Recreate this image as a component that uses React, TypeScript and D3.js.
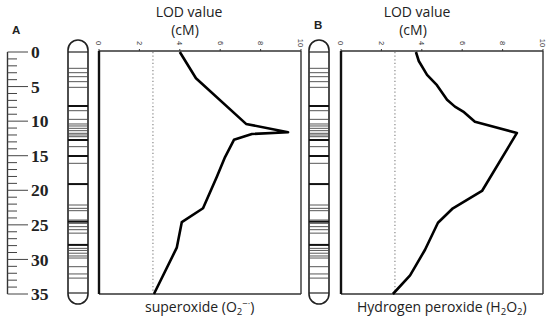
import React from "react";
import * as d3 from "d3";

// LOD profile, panel A (superoxide)
const cmA = [0, 3.8, 10.4, 11.6, 11.85, 12.7, 15.2, 18, 22.6, 24.6, 28.3, 35];
const lodA = [4.0, 4.8, 7.28, 9.36, 7.57, 6.68, 6.24, 5.84, 5.15, 4.1, 3.85, 2.72];

// LOD profile, panel B (hydrogen peroxide)
const cmB = [0, 1.3, 3.3, 4.8, 6.9, 7.9, 8.7, 10.1, 10.6, 11.7, 20.1, 22.6, 24.7, 28.6, 32.3, 35];
const lodB = [3.71, 3.85, 4.26, 4.75, 5.25, 5.64, 6.09, 6.63, 7.28, 8.71, 6.98, 5.54, 4.8, 4.16, 3.42, 2.57];

const threshold = 2.67;
const lodTicks = [0, 2, 4, 6, 8, 10];
const rulerLabels = [0, 5, 10, 15, 20, 25, 30, 35];
const rulerTicks = d3.range(0, 36);

// marker bands on the chromosome (cM)
const bands = [2.36, 2.99, 3.57, 4.29, 5.11, 7.81, 8.49, 9.74, 10.41, 10.7, 11.04, 11.38, 11.76, 12.0, 12.25, 12.73, 13.69, 15.04, 16.1, 19.1, 22.13, 22.61, 22.95, 24.3, 24.54, 24.78, 25.26, 25.7, 26.2, 27.9, 28.4, 28.7, 29.1, 29.5, 29.8, 31.05, 32.1, 32.7];
const thickBands = [7.81, 12.73, 15.04, 19.1, 24.54, 27.9];

const W = 550, H = 321;
const y = d3.scaleLinear().domain([0, 35]).range([52, 294]);

const Chromosome = ({ x0 }: { x0: number }) => {
  const w = 20, r = 10, top = 40, bot = 304;
  const path = `M${x0},${top + r} A${r},${r} 0 0 1 ${x0 + w},${top + r} L${x0 + w},${bot - r} A${r},${r} 0 0 1 ${x0},${bot - r} Z`;
  return (
    <g>
      <path d={path} fill="white" stroke="#222" strokeWidth={1.6} />
      <line x1={x0} x2={x0 + w} y1={y(0)} y2={y(0)} stroke="#222" strokeWidth={1.2} />
      <line x1={x0} x2={x0 + w} y1={y(35) - 1} y2={y(35) - 1} stroke="#222" strokeWidth={1.2} />
      {bands.map((b, i) => (
        <line key={i} x1={x0} x2={x0 + w} y1={y(b)} y2={y(b)}
          stroke={thickBands.includes(b) ? "#111" : "#444"}
          strokeWidth={thickBands.includes(b) ? 2 : 0.9} />
      ))}
    </g>
  );
};

const Panel = ({ x0, cm, lod }: { x0: number; cm: number[]; lod: number[] }) => {
  const x = d3.scaleLinear().domain([0, 10]).range([x0, x0 + 202]);
  const pts = cm.map((c, i) => [lod[i], c] as [number, number]);
  const line = d3.line<[number, number]>().x(d => x(d[0])).y(d => y(d[1]));
  return (
    <g>
      <line x1={x(0)} x2={x(10)} y1={y(0) - 1} y2={y(0) - 1} stroke="#333" strokeWidth={1.4} />
      <line x1={x(10)} x2={x(10)} y1={y(0) - 1} y2={y(35)} stroke="#333" strokeWidth={1.4} />
      <line x1={x(0)} x2={x(10)} y1={y(35)} y2={y(35)} stroke="#333" strokeWidth={1.6} />
      <line x1={x(0)} x2={x(0)} y1={y(0) - 1} y2={y(35)} stroke="#111" strokeWidth={2.4} />
      {lodTicks.map(t => (
        <g key={t} transform={`translate(${x(t)},${y(0) - 1})`}>
          <line y1={0} y2={-2} stroke="#333" strokeWidth={1} />
          <text transform="translate(0,-8) rotate(90)" textAnchor="middle" dy="0.35em"
            fontFamily="Liberation Sans, Arial, sans-serif" fontSize={7.5} fill="#333">{t}</text>
        </g>
      ))}
      <line x1={x(threshold)} x2={x(threshold)} y1={y(0)} y2={y(35)}
        stroke="#888" strokeWidth={1.2} strokeDasharray="1.2 2.4" />
      <path d={line(pts) ?? ""} fill="none" stroke="#000" strokeWidth={2.6} strokeLinejoin="round" />
    </g>
  );
};

export default function App() {
  const font = "Open Sans, Noto Sans, sans-serif";
  return (
    <svg width={W} height={H} style={{ position: "absolute", left: 0, top: 0, background: "white" }}>
      {/* cM ruler */}
      <line x1={7.5} x2={7.5} y1={y(0)} y2={y(35)} stroke="#333" strokeWidth={1.4} />
      {rulerTicks.map(t => (
        <line key={t} x1={7.5} x2={t % 5 === 0 ? 28 : 17} y1={y(t)} y2={y(t)} stroke="#444" strokeWidth={1} />
      ))}
      {rulerLabels.map(t => (
        <text key={t} x={31} y={y(t)} dy="0.35em" fontFamily="Liberation Serif, Times New Roman, serif"
          fontWeight="bold" fontSize={17.5} fill="#222">{t}</text>
      ))}

      <text x={12} y={34} fontFamily="Liberation Sans, Arial, sans-serif" fontWeight="bold" fontSize={11.5} fill="#222">A</text>
      <text x={314} y={29} fontFamily="Liberation Sans, Arial, sans-serif" fontWeight="bold" fontSize={11.5} fill="#222">B</text>

      <Chromosome x0={68} />
      <Chromosome x0={309} />

      <Panel x0={99} cm={cmA} lod={lodA} />
      <Panel x0={341} cm={cmB} lod={lodB} />

      <text x={189} y={17} textAnchor="middle" fontFamily={font} fontSize={14} fill="#222">LOD value</text>
      <text x={185} y={35} textAnchor="middle" fontFamily={font} fontSize={14} fill="#222">(cM)</text>
      <text x={417} y={17} textAnchor="middle" fontFamily={font} fontSize={14} fill="#222">LOD value</text>
      <text x={413} y={35} textAnchor="middle" fontFamily={font} fontSize={14} fill="#222">(cM)</text>

      <text x={145} y={312} fontFamily={font} fontSize={14} fill="#222">
        superoxide (O<tspan fontSize={9.5} dy={3}>2</tspan><tspan fontSize={9.5} dy={-8}>−·</tspan><tspan dy={5}>)</tspan>
      </text>
      <text x={357} y={312} fontFamily={font} fontSize={14} fill="#222">
        Hydrogen peroxide (H<tspan fontSize={9.5} dy={3}>2</tspan><tspan dy={-3}>O</tspan><tspan fontSize={9.5} dy={3}>2</tspan><tspan dy={-3}>)</tspan>
      </text>
    </svg>
  );
}
